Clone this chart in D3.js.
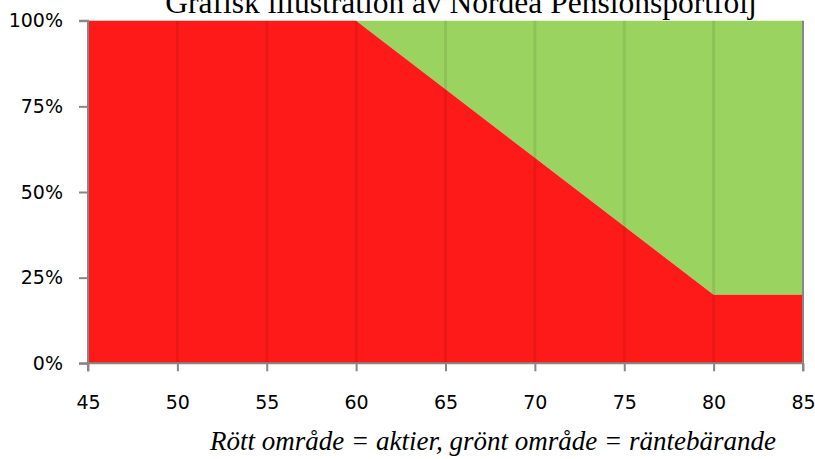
<!DOCTYPE html>
<html><head><meta charset="utf-8">
<script src="https://cdn.jsdelivr.net/npm/d3@7"></script>
<style>html,body{margin:0;padding:0;background:#fff;}svg{display:block;}</style>
</head><body>
<script>
const ages = [45, 50, 55, 60, 61, 65, 70, 71, 75, 80, 85];
const equityShare = [100, 100, 100, 100, 96, 80, 60, 56, 40, 20, 20];
const xTicks = [45, 50, 55, 60, 65, 70, 75, 80, 85];
const yTicks = [0, 25, 50, 75, 100];
const title = "Grafisk illustration av Nordea Pensionsportfölj";
const caption = "Rött område = aktier, grönt område = räntebärande";

const W = 815, H = 459;
const svg = d3.select("body").append("svg").attr("width", W).attr("height", H);
const x = d3.scaleLinear().domain([45, 85]).range([88, 803]);
const y = d3.scaleLinear().domain([0, 100]).range([363.3, 20.7]);
const data = ages.map((a, i) => ({age: a, eq: equityShare[i]}));

// green (bonds) area
svg.append("path").datum(data)
  .attr("d", d3.area().x(d => x(d.age)).y0(d => y(d.eq)).y1(() => y(100)))
  .attr("fill", "#9BD361");
// red (equity) area
svg.append("path").datum(data)
  .attr("d", d3.area().x(d => x(d.age)).y0(() => y(0)).y1(d => y(d.eq)))
  .attr("fill", "#FF1A1A");

// vertical gridlines
svg.append("g").selectAll("line").data(xTicks.slice(1, -1)).join("line")
  .attr("x1", d => x(d)).attr("x2", d => x(d))
  .attr("y1", y(100)).attr("y2", y(0))
  .attr("stroke", "rgba(0,0,0,0.08)").attr("stroke-width", 3);

const axisColor = "#878787";
const font = "'DejaVu Sans', Verdana, sans-serif";

// y axis
const yAxis = svg.append("g").attr("transform", `translate(${x(45)},0)`)
  .call(d3.axisLeft(y).tickValues(yTicks).tickFormat(d => d + "%").tickSize(9).tickPadding(16));
// x axis
const xAxis = svg.append("g").attr("transform", `translate(0,${y(0)})`)
  .call(d3.axisBottom(x).tickValues(xTicks).tickFormat(d3.format("d")).tickSize(8).tickPadding(24));
[yAxis, xAxis].forEach(g => {
  g.select(".domain").attr("stroke", axisColor).attr("stroke-width", 2);
  g.selectAll(".tick line").attr("stroke", axisColor).attr("stroke-width", 2);
  g.selectAll(".tick text").attr("fill", "#000").style("font-family", font).style("font-size", "19px");
});
yAxis.select(".domain").attr("d", `M-9,${y(100)}H0V${y(0)}H-9`);
xAxis.select(".domain").attr("d", `M${x(45)},8V0H${x(85)}V8`);
// right border
svg.append("line").attr("x1", x(85)).attr("x2", x(85)).attr("y1", y(100)).attr("y2", y(0))
  .attr("stroke", axisColor).attr("stroke-width", 2);

svg.append("text").attr("x", 461).attr("y", 13).attr("text-anchor", "middle")
  .style("font-family", "'Liberation Serif', 'Times New Roman', serif").style("font-size", "31.5px")
  .text(title);
svg.append("text").attr("x", 493).attr("y", 450).attr("text-anchor", "middle")
  .style("font-family", "'Liberation Serif', 'Times New Roman', serif").style("font-size", "27px")
  .style("font-style", "italic").text(caption);
</script>
</body></html>
